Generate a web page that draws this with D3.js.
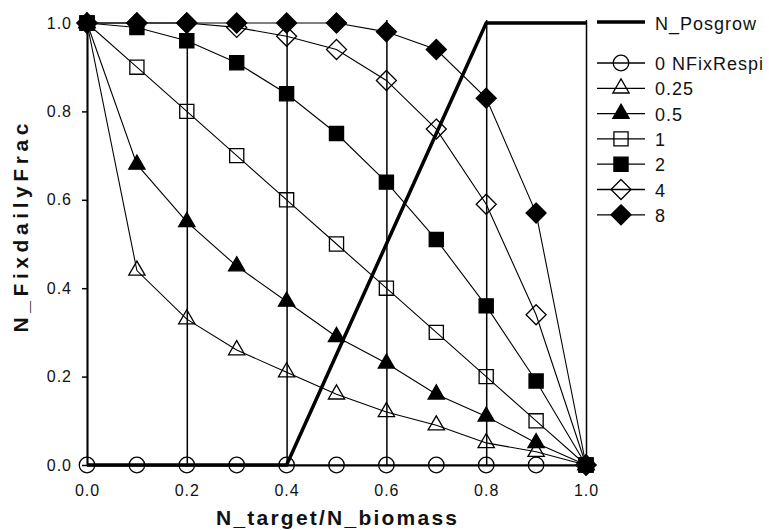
<!DOCTYPE html>
<html>
<head>
<meta charset="utf-8">
<script src="https://cdn.jsdelivr.net/npm/d3@7"></script>
<style>
  html, body { margin: 0; padding: 0; background: #fff; }
  svg { display: block; }
  text { font-family: "Liberation Sans", Arial, Helvetica, sans-serif; fill: #111; }
</style>
</head>
<body>
<svg id="chart" width="769" height="530"></svg>
<script>
// N_target/N_biomass ratio at which each curve is evaluated
const ratios = [0, 0.1, 0.2, 0.3, 0.4, 0.5, 0.6, 0.7, 0.8, 0.9, 1.0];

// N_Posgrow switch curve
const posgrow = [0, 0, 0, 0, 0, 0.25, 0.5, 0.75, 1, 1, 1];

// N_FixdailyFrac for each NFixRespi exponent
const fixResp0   = [0, 0, 0, 0, 0, 0, 0, 0, 0, 0, 0];
const fixResp025 = [1, 0.44, 0.33, 0.26, 0.21, 0.16, 0.12, 0.09, 0.05, 0.03, 0];
const fixResp05  = [1, 0.68, 0.55, 0.45, 0.37, 0.29, 0.23, 0.16, 0.11, 0.05, 0];
const fixResp1   = [1, 0.9, 0.8, 0.7, 0.6, 0.5, 0.4, 0.3, 0.2, 0.1, 0];
const fixResp2   = [1, 0.99, 0.96, 0.91, 0.84, 0.75, 0.64, 0.51, 0.36, 0.19, 0];
const fixResp4   = [1, 1.0, 1.0, 0.99, 0.97, 0.94, 0.87, 0.76, 0.59, 0.34, 0];
const fixResp8   = [1, 1, 1, 1, 1, 1.0, 0.98, 0.94, 0.83, 0.57, 0];

const seriesLabels = ["0 NFixRespi", "0.25", "0.5", "1", "2", "4", "8"];
const seriesValues = [fixResp0, fixResp025, fixResp05, fixResp1, fixResp2, fixResp4, fixResp8];

const xTickValues = [0, 0.2, 0.4, 0.6, 0.8, 1.0];
const yTickValues = [0, 0.2, 0.4, 0.6, 0.8, 1.0];

const xTitle = "N_target/N_biomass";
const yTitle = "N_FixdailyFrac";
const posgrowLabel = "N_Posgrow";

// square-cornered diamond symbol
const symbolDiamondSq = {
  draw(ctx, size) {
    const r = Math.sqrt(size / 2);
    ctx.moveTo(0, -r); ctx.lineTo(r, 0); ctx.lineTo(0, r); ctx.lineTo(-r, 0); ctx.closePath();
  }
};

// marker style per series
const markerStyles = [
  { type: d3.symbolCircle,   size: 190, filled: false },
  { type: d3.symbolTriangle, size: 115, filled: false },
  { type: d3.symbolTriangle, size: 115, filled: true },
  { type: d3.symbolSquare,   size: 200, filled: false },
  { type: d3.symbolSquare,   size: 200, filled: true },
  { type: symbolDiamondSq,   size: 200, filled: false },
  { type: symbolDiamondSq,   size: 200, filled: true }
];

const svg = d3.select("#chart");
const plot = { left: 87, right: 586, top: 23, bottom: 465 };

const x = d3.scaleLinear().domain([0, 1]).range([plot.left, plot.right]);
const y = d3.scaleLinear().domain([0, 1]).range([plot.bottom, plot.top]);

// x axis with full-height vertical lines at the major ticks
const xAxis = svg.append("g")
  .attr("transform", `translate(0,${plot.bottom})`)
  .call(d3.axisBottom(x).tickValues(xTickValues).tickFormat(d3.format(".1f"))
    .tickSizeInner(-(plot.bottom - plot.top + 3)).tickSizeOuter(0).tickPadding(20));
xAxis.select(".domain").attr("stroke", "#000").attr("stroke-width", 1.8);
xAxis.selectAll(".tick line").attr("stroke", "#000").attr("stroke-width", 1.5);
xAxis.selectAll(".tick text")
  .style("font-size", "16px").style("letter-spacing", "1px").attr("fill", "#222");

// y axis
const yAxis = svg.append("g")
  .attr("transform", `translate(${plot.left},0)`)
  .call(d3.axisLeft(y).tickValues(yTickValues).tickFormat(d3.format(".1f"))
    .tickSizeInner(5).tickSizeOuter(0).tickPadding(10));
yAxis.select(".domain").attr("stroke", "#000").attr("stroke-width", 1.8);
yAxis.selectAll(".tick line").attr("stroke", "#000").attr("stroke-width", 1.5);
yAxis.selectAll(".tick text")
  .style("font-size", "16px").style("letter-spacing", "1px").attr("fill", "#222");

// axis titles
svg.append("text")
  .attr("x", (plot.left + plot.right) / 2).attr("y", 525)
  .attr("text-anchor", "middle")
  .attr("textLength", 241).attr("lengthAdjust", "spacing")
  .style("font-size", "21px").style("font-weight", "bold")
  .text(xTitle);

svg.append("text")
  .attr("transform", "translate(28,228) rotate(-90)")
  .attr("text-anchor", "middle")
  .attr("textLength", 209).attr("lengthAdjust", "spacing")
  .style("font-size", "21px").style("font-weight", "bold")
  .text(yTitle);

// N_Posgrow curve
const line = d3.line().x((d, i) => x(ratios[i])).y(d => y(d));
svg.append("path")
  .datum(posgrow)
  .attr("d", line)
  .attr("fill", "none").attr("stroke", "#000").attr("stroke-width", 3.5)
  .attr("stroke-linejoin", "miter");

// fraction curves with markers
const symbolPath = s => d3.symbol().type(s.type).size(s.size)();

seriesValues.forEach((vals, k) => {
  const g = svg.append("g");
  g.append("path")
    .datum(vals)
    .attr("d", line)
    .attr("fill", "none").attr("stroke", "#000").attr("stroke-width", 1.1);
  const st = markerStyles[k];
  g.selectAll("path.marker")
    .data(vals)
    .join("path")
    .attr("class", "marker")
    .attr("transform", (d, i) => `translate(${x(ratios[i])},${y(d)})`)
    .attr("d", symbolPath(st))
    .attr("fill", st.filled ? "#000" : "none")
    .attr("stroke", "#000").attr("stroke-width", 1.3);
});

// legend
const legend = svg.append("g");
const lx0 = 597, lx1 = 645, ltx = 655;
legend.append("line")
  .attr("x1", lx0).attr("x2", lx1).attr("y1", 22).attr("y2", 22)
  .attr("stroke", "#000").attr("stroke-width", 3.5);
legend.append("text")
  .attr("x", ltx).attr("y", 24).attr("dominant-baseline", "central")
  .style("font-size", "18px").style("letter-spacing", "1px")
  .text(posgrowLabel);

seriesLabels.forEach((lab, k) => {
  const ly = 63 + k * 25.3;
  const st = markerStyles[k];
  legend.append("line")
    .attr("x1", lx0).attr("x2", lx1).attr("y1", ly).attr("y2", ly)
    .attr("stroke", "#000").attr("stroke-width", 1.3);
  legend.append("path")
    .attr("transform", `translate(${(lx0 + lx1) / 2},${ly})`)
    .attr("d", symbolPath(st))
    .attr("fill", st.filled ? "#000" : "none")
    .attr("stroke", "#000").attr("stroke-width", 1.3);
  legend.append("text")
    .attr("x", ltx).attr("y", ly + 1).attr("dominant-baseline", "central")
    .style("font-size", "18px").style("letter-spacing", "1px")
    .text(lab);
});
</script>
</body>
</html>
